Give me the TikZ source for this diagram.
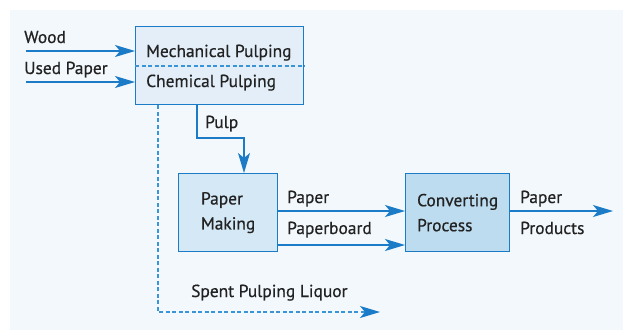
\documentclass[tikz,border=0pt]{standalone}
\usepackage{fontspec}
\setmainfont{PT Sans}[FakeBold=0.6]
\usetikzlibrary{arrows.meta}
\definecolor{bg}{HTML}{F3F8FC}
\definecolor{ln}{HTML}{1B7BC6}
\definecolor{dl}{HTML}{3A95D8}
\definecolor{fone}{HTML}{E3EEF9}
\definecolor{ftwo}{HTML}{D5E8F6}
\definecolor{fthree}{HTML}{BEDCF0}
\definecolor{tx}{HTML}{222222}
\begin{document}
\begin{tikzpicture}[x=1pt,y=-1pt,
  font=\fontsize{17.4}{25}\selectfont,
  box/.style={draw=ln, line width=1.3pt, inner sep=0pt, anchor=north west, text=tx, align=left},
  flow/.style={draw=ln, line width=1.4pt, -{Stealth[length=20pt,width=12pt,inset=5pt]}},
  dashline/.style={line width=1.3pt, dash pattern=on 4pt off 2.5pt},
  lbl/.style={text=tx, inner sep=0pt, anchor=base west}]
\useasboundingbox (0,0) rectangle (623,330);
\fill[bg] (10,10) rectangle (623,330);

% boxes
\node[box, fill=fone, minimum width=168pt, minimum height=78pt] (pulping) at (135,26) {};
\node[box, fill=ftwo, minimum width=99pt, minimum height=78pt] (making) at (178,173) {Paper\\Making};
\node[box, fill=fthree, minimum width=104pt, minimum height=78pt] (conv) at (405,173) {Converting\\Process};

% divider
\coordinate (divy) at (0,66);
\draw[dl, dashline] (pulping.west |- divy) -- (pulping.east |- divy);

% texts
\node[lbl] (mech) at (146,57) {Mechanical Pulping};
\node[lbl] (chem) at (146,87) {Chemical Pulping};
\node[lbl] (wood) at (24,43) {Wood};
\node[lbl] (used) at (24,74) {Used Paper};
\node[lbl] (pulp) at (205,128) {Pulp};
\node[lbl] (paper) at (287,203) {Paper};
\node[lbl] (board) at (287,234) {Paperboard};
\node[lbl] (prod1) at (520,203) {Paper};
\node[lbl] (prod2) at (520,234) {Products};
\node[lbl] (spent) at (191,297) {Spent Pulping Liquor};

% inputs
\coordinate (w0) at (26,51);
\coordinate (u0) at (26,82);
\draw[flow] (w0) -- (w0 -| pulping.west);
\draw[flow] (u0) -- (u0 -| pulping.west);

% pulp
\coordinate (pa) at (197,138);
\coordinate (pc) at (244,138);
\draw[flow] (pa |- pulping.south) -- (pa) -- (pc) -- (pc |- making.north);

% paper / paperboard
\coordinate (py) at (0,211);
\coordinate (by) at (0,245);
\draw[flow] (making.east |- py) -- (conv.west |- py);
\draw[flow] (making.east |- by) -- (conv.west |- by);

% products
\coordinate (out) at (613,211);
\draw[flow] (conv.east |- out) -- (out);

% spent liquor
\coordinate (sa) at (158,312);
\coordinate (sb) at (380,312);
\draw[flow, dashline, draw=dl, -{Stealth[length=20pt,width=12pt,inset=5pt,color=ln]}] (sa |- pulping.south) -- (sa) -- (sb);
\end{tikzpicture}
\end{document}
